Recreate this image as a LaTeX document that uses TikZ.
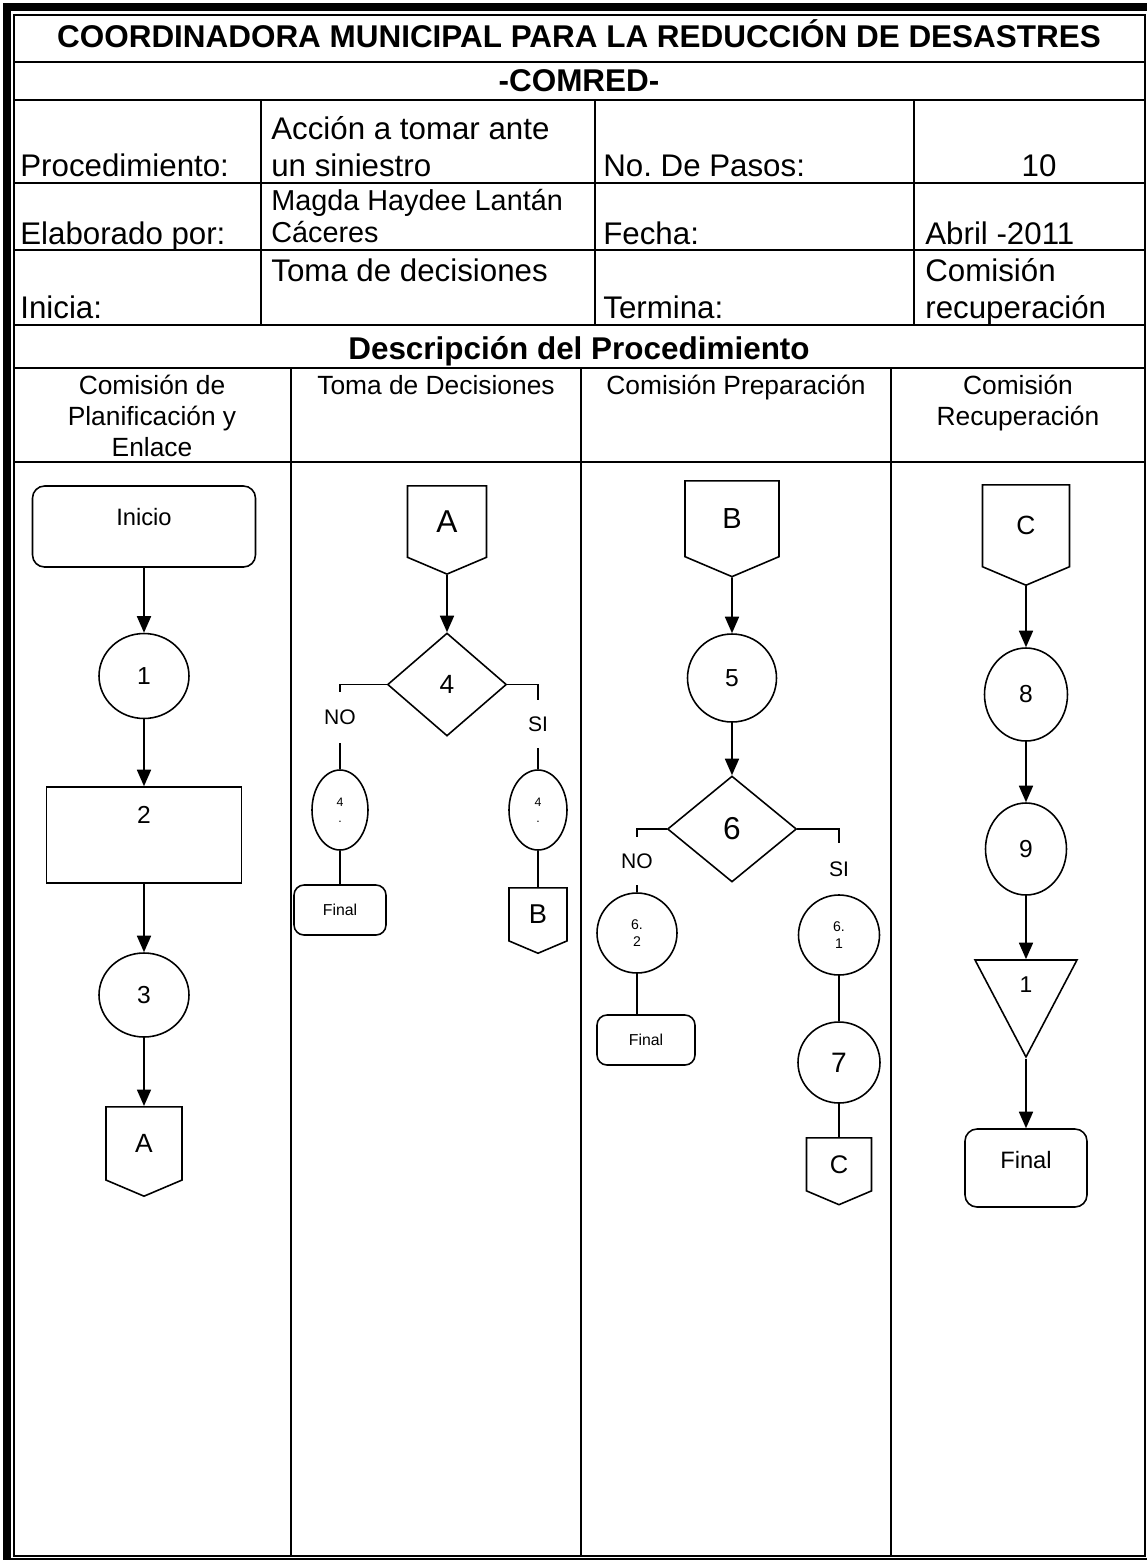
\documentclass[tikz,border=0pt]{standalone}
\usepackage{fontspec}
\setmainfont{Liberation Sans}
\usetikzlibrary{shapes.geometric,shapes.symbols,arrows.meta,positioning}
\frenchspacing

\begin{document}
\begin{tikzpicture}[
    x=0.02cm, y=-0.02cm,
    >={Triangle[length=0.33cm,width=0.28cm]},
    tabline/.style={line width=0.8pt},
    shp/.style={draw, line width=0.9pt, inner sep=0pt},
    term/.style={shp, rectangle, rounded corners=0.24cm},
    proc/.style={shp, rectangle},
    stepcirc/.style={shp, ellipse},
    decision/.style={shp, diamond},
    offpage/.style={shp, signal, signal to=south, signal pointer angle=134},
    mergetri/.style={shp, isosceles triangle, isosceles triangle stretches,
        shape border rotate=-90},
    flow/.style={->, line width=1pt},
    link/.style={line width=1pt},
    cell/.style={inner sep=0pt, anchor=base west,
        font=\fontsize{17.8}{21}\selectfont},
    heading/.style={inner sep=0pt, anchor=base,
        font=\bfseries\fontsize{17.9}{21}\selectfont},
    lane/.style={inner sep=0pt, anchor=north, align=center,
        font=\fontsize{15}{17.6}\selectfont},
    branch/.style={inner sep=0pt, minimum width=0.6cm,
        font=\fontsize{12}{14}\selectfont}
]
    \useasboundingbox (0,0) rectangle (1147,1560);

    % frame
    \fill (3,3) rectangle (11,1559);
    \fill (3,3) rectangle (1147,11);
    \draw[tabline] (14,15) rectangle (1145,1556);
    \draw[tabline] (3,1559) -- (1147,1559);
    \foreach \y in {62,100,183,250,325,368,462}
        \draw[tabline] (14,\y) -- (1145,\y);
    \foreach \x in {261,595,914}
        \draw[tabline] (\x,100) -- (\x,325);
    \foreach \x in {291,581,891}
        \draw[tabline] (\x,368) -- (\x,1556);

    % header
    \node[heading] (title) at (579,47) {COORDINADORA MUNICIPAL PARA LA REDUCCIÓN DE DESASTRES};
    \node[heading] (comred) at (579,91) {-COMRED-};

    \node[cell] (procl) at (20,176) {Procedimiento:};
    \node[cell] (proca) at (271,139) {Acción a tomar ante};
    \node[cell] (procb) at (271,176) {un siniestro};
    \node[cell] (pasosl) at (603,176) {No. De Pasos:};
    \node[cell, anchor=base] (pasos) at (1039,176) {10};

    \node[cell] (elabl) at (20,244) {Elaborado por:};
    \node[cell, font=\fontsize{16.4}{19}\selectfont] (elaba) at (271,210) {Magda Haydee Lantán};
    \node[cell, font=\fontsize{16.4}{19}\selectfont] (elabb) at (271,242) {Cáceres};
    \node[cell] (fechal) at (603,244) {Fecha:};
    \node[cell] (fecha) at (925,244) {Abril -2011};

    \node[cell] (inicl) at (20,318) {Inicia:};
    \node[cell] (inic) at (271,281) {Toma de decisiones};
    \node[cell] (terml) at (603,318) {Termina:};
    \node[cell] (terma) at (925,281) {Comisión};
    \node[cell] (termb) at (925,318) {recuperación};

    \node[heading] (desc) at (579,359) {Descripción del Procedimiento};

    \node[lane] (lane1) at (152,375) {Comisión de\\Planificación y\\Enlace};
    \node[lane] (lane2) at (436,375) {Toma de Decisiones};
    \node[lane] (lane3) at (736,375) {Comisión Preparación};
    \node[lane] (lane4) at (1018,375) {Comisión\\Recuperación};

    % lane 1
    \node[term, minimum width=4.46cm, minimum height=1.62cm, text depth=0.38cm,
        font=\fontsize{13.5}{15}\selectfont] (inicio) at (144,526.5) {Inicio};
    \node[stepcirc, minimum width=1.8cm, minimum height=1.7cm,
        font=\fontsize{14}{16}\selectfont] (c1) at (144,676) {1};
    \node[proc, minimum width=3.9cm, minimum height=1.92cm, text depth=0.8cm,
        font=\fontsize{14}{16}\selectfont] (r2) at (144,835) {2};
    \node[stepcirc, minimum width=1.8cm, minimum height=1.68cm,
        font=\fontsize{14}{16}\selectfont] (c3) at (144,995) {3};
    \node[offpage, minimum width=1.52cm, minimum height=1.54cm, anchor=north,
        font=\fontsize{15}{17}\selectfont] (A1) at (144,1106) {A};

    \draw[flow] (inicio) -- (c1);
    \draw[flow] (c1) -- (r2);
    \draw[flow] (r2) -- (c3);
    \draw[flow] (c3) -- (A1);

    % lane 2
    \node[offpage, minimum width=1.58cm, minimum height=1.52cm, anchor=north,
        font=\fontsize{18}{20}\selectfont] (A2) at (447,485) {A};
    \node[decision, minimum width=2.38cm, minimum height=2.06cm,
        font=\fontsize{15}{17}\selectfont] (d4) at (447,684.5) {4};
    \node[branch, minimum height=1.02cm] (no4) at (340,717.5) {NO};
    \node[stepcirc, minimum width=1.12cm, minimum height=1.6cm, align=center,
        font=\fontsize{7}{9}\selectfont] (e4n) at (340,810) {4\\.};
    \node[term, rounded corners=0.2cm, minimum width=1.84cm, minimum height=1cm,
        font=\fontsize{9}{11}\selectfont] (f4) at (340,910) {Final};
    \node[branch, minimum height=0.96cm] (si4) at (538,724) {SI};
    \node[stepcirc, minimum width=1.16cm, minimum height=1.6cm, align=center,
        font=\fontsize{7}{9}\selectfont] (e4s) at (538,810) {4\\.};
    \node[offpage, minimum width=1.16cm, minimum height=1.14cm, anchor=north,
        font=\fontsize{15.5}{17}\selectfont] (B2) at (538,887) {B};

    \draw[flow] (A2) -- (d4);
    \draw[link] (d4.west) -| (no4.north);
    \draw[link] (no4) -- (e4n);
    \draw[link] (e4n) -- (f4);
    \draw[link] (d4.east) -| (si4.north);
    \draw[link] (si4) -- (e4s);
    \draw[link] (e4s) -- (B2);

    % lane 3
    \node[offpage, minimum width=1.88cm, minimum height=1.6cm, anchor=north,
        font=\fontsize{16.5}{18}\selectfont] (B3) at (732,480) {B};
    \node[stepcirc, minimum width=1.78cm, minimum height=1.76cm,
        font=\fontsize{14}{16}\selectfont] (c5) at (732,678) {5};
    \node[decision, minimum width=2.58cm, minimum height=2.12cm,
        font=\fontsize{18}{20}\selectfont] (d6) at (732,829) {6};
    \node[branch, minimum height=0.96cm] (no6) at (637,861) {NO};
    \node[stepcirc, minimum width=1.6cm, minimum height=1.6cm, align=center,
        font=\fontsize{8}{9.7}\selectfont] (e62) at (637,933) {6.\\2};
    \node[term, rounded corners=0.2cm, minimum width=1.96cm, minimum height=1cm,
        font=\fontsize{9}{11}\selectfont] (f6) at (646,1040) {Final};
    \node[branch, minimum height=1.04cm] (si6) at (839,869) {SI};
    \node[stepcirc, minimum width=1.62cm, minimum height=1.6cm, align=center,
        font=\fontsize{8}{9.7}\selectfont] (e61) at (839,935) {6.\\1};
    \node[stepcirc, minimum width=1.64cm, minimum height=1.62cm,
        font=\fontsize{16}{18}\selectfont] (c7) at (839,1062.5) {7};
    \node[offpage, minimum width=1.3cm, minimum height=1.14cm, anchor=north,
        font=\fontsize{14.5}{16}\selectfont] (C3) at (839,1137) {C};

    \draw[flow] (B3) -- (c5);
    \draw[flow] (c5) -- (d6);
    \draw[link] (d6.west) -| (no6.north);
    \draw[link] (no6) -- (e62);
    \draw[link] (e62.south) -- (e62.south |- f6.north);
    \draw[link] (d6.east) -| (si6.north);
    \draw[link] (si6) -- (e61);
    \draw[link] (e61) -- (c7);
    \draw[link] (c7) -- (C3);

    % lane 4
    \node[offpage, minimum width=1.74cm, minimum height=1.72cm, anchor=north,
        font=\fontsize{15}{17}\selectfont] (C4) at (1026,484) {C};
    \node[stepcirc, minimum width=1.66cm, minimum height=1.86cm,
        font=\fontsize{14}{16}\selectfont] (c8) at (1026,694.5) {8};
    \node[stepcirc, minimum width=1.62cm, minimum height=1.84cm,
        font=\fontsize{14}{16}\selectfont] (c9) at (1026,849) {9};
    \node[mergetri, minimum width=2.04cm, minimum height=1.94cm, anchor=apex]
        (t1) at (1026,1059) {};
    \node[below=0.34cm of t1.lower side, inner sep=0pt,
        font=\fontsize{13}{15}\selectfont] (t1num) {1};
    \node[term, minimum width=2.44cm, minimum height=1.56cm, text depth=0.32cm,
        font=\fontsize{13.5}{15}\selectfont] (fin4) at (1026,1168) {Final};

    \draw[flow] (C4) -- (c8);
    \draw[flow] (c8) -- (c9);
    \draw[flow] (c9) -- (t1.lower side);
    \draw[flow] (t1.apex) -- (fin4);
\end{tikzpicture}
\end{document}
